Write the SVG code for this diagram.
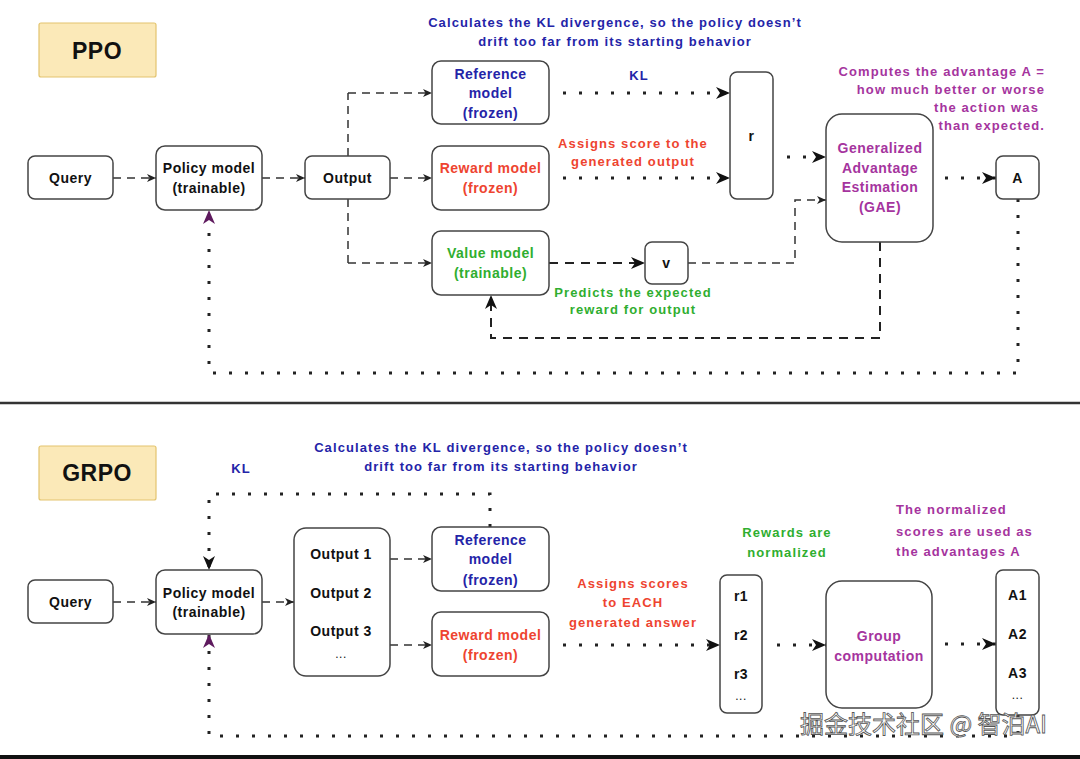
<svg xmlns="http://www.w3.org/2000/svg" width="1080" height="759" viewBox="0 0 1080 759">
<style>
text{font-family:"Liberation Sans","DejaVu Sans",sans-serif;font-weight:bold;font-size:14px;text-anchor:middle;letter-spacing:0.5px}
.node{fill:#fff;stroke:#444;stroke-width:1.5}
.title{fill:#fbe9b8;stroke:#e3c46e;stroke-width:1.2}
.blk{fill:#111}
.blue{fill:#2424a8}
.red{fill:#ee4430}
.green{fill:#2fae2f}
.purple{fill:#a5349e}
.note{font-size:13px;letter-spacing:1.1px}
.dash{fill:none;stroke:#333;stroke-width:1.5;stroke-dasharray:8 6}
.dash2{fill:none;stroke:#222;stroke-width:2;stroke-dasharray:9 7}
.dot{fill:none;stroke:#222;stroke-width:3;stroke-dasharray:3 13}
</style>
<defs>
<marker id="sm" markerUnits="userSpaceOnUse" markerWidth="11" markerHeight="10" refX="10" refY="5" orient="auto"><path d="M1,1 L10,5 L1,9 L3.5,5 z" fill="#222"/></marker>
<marker id="lg" markerUnits="userSpaceOnUse" markerWidth="16" markerHeight="14" refX="15" refY="7" orient="auto"><path d="M1,1 L15,7 L1,13 L5,7 z" fill="#111"/></marker>
<marker id="lgp" markerUnits="userSpaceOnUse" markerWidth="16" markerHeight="14" refX="15" refY="7" orient="auto"><path d="M1,1 L15,7 L1,13 L5,7 z" fill="#5e1a5e"/></marker>
</defs>
<rect x="0" y="0" width="1080" height="759" fill="#fff"/>
<line x1="0" y1="403" x2="1080" y2="403" stroke="#333" stroke-width="2.5"/>
<rect x="0" y="755" width="1080" height="4" fill="#111"/>

<g id="connectors">
<!-- PPO -->
<line class="dash" x1="113" y1="178" x2="156" y2="178" marker-end="url(#sm)"/>
<line class="dash" x1="262" y1="178" x2="305" y2="178" marker-end="url(#sm)"/>
<line class="dash" x1="390" y1="178" x2="432" y2="178" marker-end="url(#sm)"/>
<line class="dash" x1="348" y1="156" x2="348" y2="93"/>
<polyline class="dash" points="348,93 432,93" marker-end="url(#sm)"/>
<line class="dash" x1="348" y1="199" x2="348" y2="263"/>
<polyline class="dash" points="348,263 432,263" marker-end="url(#sm)"/>
<line class="dot" x1="563" y1="93" x2="730" y2="93" marker-end="url(#lg)"/>
<line class="dot" x1="563" y1="178" x2="730" y2="178" marker-end="url(#lg)"/>
<line class="dot" x1="787" y1="157" x2="826" y2="157" marker-end="url(#lg)"/>
<line class="dash2" x1="549" y1="263" x2="645" y2="263" marker-end="url(#lg)"/>
<polyline class="dash" points="688,263 795,263 795,200 826,200" marker-end="url(#sm)"/>
<polyline class="dash2" points="880,242 880,338 491,338 491,295" marker-end="url(#lg)"/>
<line class="dot" x1="945" y1="178" x2="996" y2="178" marker-end="url(#lg)"/>
<polyline class="dot" points="1018,199 1018,373 209,373 209,210" marker-end="url(#lgp)"/>
<!-- GRPO -->
<line class="dash" x1="113" y1="602" x2="156" y2="602" marker-end="url(#sm)"/>
<line class="dash" x1="262" y1="602" x2="294" y2="602" marker-end="url(#sm)"/>
<line class="dash" x1="390" y1="559" x2="432" y2="559" marker-end="url(#sm)"/>
<line class="dash" x1="390" y1="645" x2="432" y2="645" marker-end="url(#sm)"/>
<polyline class="dot" points="490,527 490,494 209,494 209,570" marker-end="url(#lg)"/>
<line class="dot" x1="563" y1="645" x2="720" y2="645" marker-end="url(#lg)"/>
<line class="dot" x1="777" y1="645" x2="826" y2="645" marker-end="url(#lg)"/>
<line class="dot" x1="945" y1="644" x2="996" y2="644" marker-end="url(#lg)"/>
<polyline class="dot" points="1018,715 1018,736 209,736 209,634" marker-end="url(#lgp)"/>
</g>

<g id="ppo-title"><rect class="title" x="39" y="23" width="117" height="54" rx="2"/><text x="97" y="59" class="blk" style="font-size:23px">PPO</text></g>
<g id="ppo-query"><rect class="node" x="28" y="156" width="85" height="43" rx="7"/><text x="70.5" y="183" class="blk">Query</text></g>
<g id="ppo-policy"><rect class="node" x="156" y="146" width="106" height="64" rx="9"/><text x="209" y="173" class="blk">Policy model</text><text x="209" y="193" class="blk">(trainable)</text></g>
<g id="ppo-output"><rect class="node" x="305" y="156" width="85" height="43" rx="7"/><text x="347.5" y="183" class="blk">Output</text></g>
<g id="ppo-reference"><rect class="node" x="432" y="61" width="117" height="63" rx="9"/><text x="490.5" y="79" class="blue">Reference</text><text x="490.5" y="98" class="blue">model</text><text x="490.5" y="118" class="blue">(frozen)</text></g>
<g id="ppo-reward"><rect class="node" x="432" y="146" width="117" height="64" rx="9"/><text x="490.5" y="173" class="red">Reward model</text><text x="490.5" y="193" class="red">(frozen)</text></g>
<g id="ppo-value"><rect class="node" x="432" y="231" width="117" height="64" rx="9"/><text x="490.5" y="258" class="green">Value model</text><text x="490.5" y="278" class="green">(trainable)</text></g>
<g id="ppo-r"><rect class="node" x="730" y="72" width="43" height="127" rx="7"/><text x="751.5" y="141" class="blk">r</text></g>
<g id="ppo-v"><rect class="node" x="645" y="242" width="43" height="42" rx="7"/><text x="666.5" y="268" class="blk">v</text></g>
<g id="ppo-gae"><rect class="node" x="826" y="114" width="107" height="128" rx="16"/><text x="880" y="153" class="purple">Generalized</text><text x="880" y="173" class="purple">Advantage</text><text x="880" y="192" class="purple">Estimation</text><text x="880" y="212" class="purple">(GAE)</text></g>
<g id="ppo-a"><rect class="node" x="996" y="156" width="43" height="43" rx="7"/><text x="1017.5" y="183" class="blk">A</text></g>
<g id="ppo-notes">
<text x="615" y="27" class="blue note">Calculates the KL divergence, so the policy doesn’t</text>
<text x="615" y="46" class="blue note">drift too far from its starting behavior</text>
<text x="639" y="80" class="blue note">KL</text>
<text x="633" y="148" class="red note">Assigns score to the</text>
<text x="633" y="166" class="red note">generated output</text>
<text x="633" y="297" class="green note">Predicts the expected</text>
<text x="633" y="314" class="green note">reward for output</text>
<text x="1045" y="76" class="purple note" style="text-anchor:end">Computes the advantage A =</text>
<text x="1045" y="94" class="purple note" style="text-anchor:end">how much better or worse</text>
<text x="1039" y="112" class="purple note" style="text-anchor:end">the action was</text>
<text x="1045" y="130" class="purple note" style="text-anchor:end">than expected.</text>
</g>

<g id="grpo-title"><rect class="title" x="39" y="446" width="117" height="54" rx="2"/><text x="97" y="481" class="blk" style="font-size:23px">GRPO</text></g>
<g id="grpo-query"><rect class="node" x="28" y="580" width="85" height="43" rx="7"/><text x="70.5" y="607" class="blk">Query</text></g>
<g id="grpo-policy"><rect class="node" x="156" y="570" width="106" height="64" rx="9"/><text x="209" y="598" class="blk">Policy model</text><text x="209" y="617" class="blk">(trainable)</text></g>
<g id="grpo-outputs"><rect class="node" x="294" y="528" width="96" height="148" rx="12"/><text x="341" y="559" class="blk">Output 1</text><text x="341" y="598" class="blk">Output 2</text><text x="341" y="636" class="blk">Output 3</text><text x="341" y="658" class="blk" style="font-weight:normal;font-size:12px">...</text></g>
<g id="grpo-reference"><rect class="node" x="432" y="527" width="117" height="64" rx="9"/><text x="490.5" y="545" class="blue">Reference</text><text x="490.5" y="564" class="blue">model</text><text x="490.5" y="585" class="blue">(frozen)</text></g>
<g id="grpo-reward"><rect class="node" x="432" y="612" width="117" height="64" rx="9"/><text x="490.5" y="640" class="red">Reward model</text><text x="490.5" y="660" class="red">(frozen)</text></g>
<g id="grpo-r"><rect class="node" x="720" y="575" width="42" height="138" rx="7"/><text x="741" y="601" class="blk">r1</text><text x="741" y="640" class="blk">r2</text><text x="741" y="679" class="blk">r3</text><text x="741" y="700" class="blk" style="font-weight:normal;font-size:12px">...</text></g>
<g id="grpo-group"><rect class="node" x="826" y="581" width="106" height="127" rx="16"/><text x="879" y="641" class="purple">Group</text><text x="879" y="661" class="purple">computation</text></g>
<g id="grpo-a"><rect class="node" x="996" y="570" width="43" height="145" rx="7"/><text x="1017.5" y="600" class="blk">A1</text><text x="1017.5" y="639" class="blk">A2</text><text x="1017.5" y="678" class="blk">A3</text><text x="1017.5" y="699" class="blk" style="font-weight:normal;font-size:12px">...</text></g>
<g id="grpo-notes">
<text x="501" y="452" class="blue note">Calculates the KL divergence, so the policy doesn’t</text>
<text x="501" y="471" class="blue note">drift too far from its starting behavior</text>
<text x="241" y="473" class="blue note">KL</text>
<text x="633" y="588" class="red note">Assigns scores</text>
<text x="633" y="607" class="red note">to EACH</text>
<text x="633" y="627" class="red note">generated answer</text>
<text x="787" y="537" class="green note">Rewards are</text>
<text x="787" y="557" class="green note">normalized</text>
<text x="896" y="514" class="purple note" style="text-anchor:start">The normalized</text>
<text x="896" y="536" class="purple note" style="text-anchor:start">scores are used as</text>
<text x="896" y="556" class="purple note" style="text-anchor:start">the advantages A</text>
</g>
<text x="800" y="733" style="font-family:'Noto Sans CJK SC','Liberation Sans',sans-serif;font-weight:normal;font-size:24px;text-anchor:start;letter-spacing:0;fill:#fff;stroke:#555;stroke-width:0.8">掘金技术社区 @ 智泊AI</text>
</svg>
